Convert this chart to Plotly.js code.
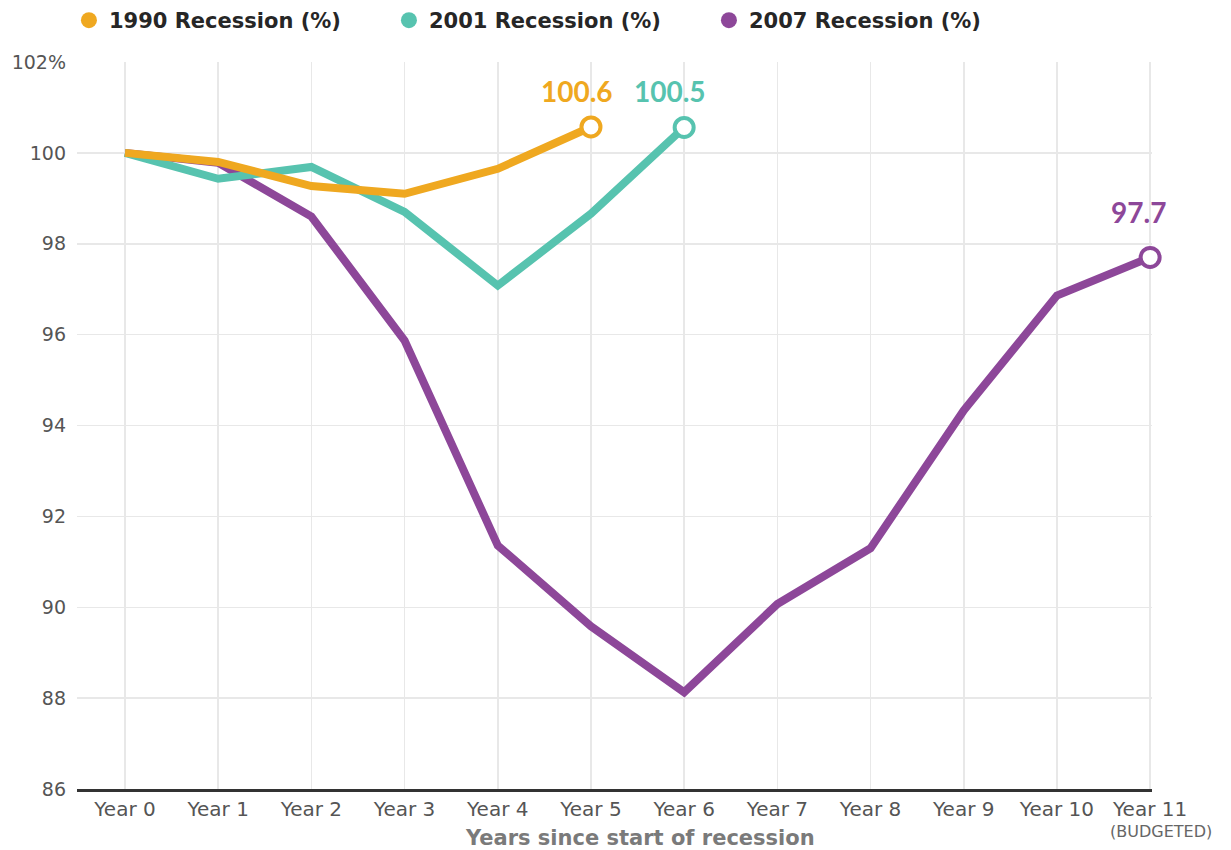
<!DOCTYPE html>
<html>
<head>
<meta charset="utf-8">
<script src="https://cdn.plot.ly/plotly-3.0.1.min.js"></script>
<style>
html,body{margin:0;padding:0;background:#fff;}
#chart{width:1231px;height:850px;}
</style>
</head>
<body>
<div id="chart"></div>
<script>
// ---- data ----
const years = [0,1,2,3,4,5,6,7,8,9,10,11];
const yearLabels = ["Year 0","Year 1","Year 2","Year 3","Year 4","Year 5","Year 6","Year 7","Year 8","Year 9","Year 10","Year 11"];
const seriesNames = ["1990 Recession (%)","2001 Recession (%)","2007 Recession (%)"];
const v1990 = [100, 99.8, 99.27, 99.1, 99.65, 100.57];
const v2001 = [100, 99.43, 99.69, 98.7, 97.08, 98.66, 100.56];
const v2007 = [100, 99.78, 98.6, 95.87, 91.36, 89.58, 88.13, 90.07, 91.3, 94.33, 96.86, 97.7];
const endLabels = ["100.6","100.5","97.7"];
const yTickVals = [86,88,90,92,94,96,98,100,102];
const yTickText = ["86","88","90","92","94","96","98","100","102%"];
const xTitle = "Years since start of recession";

const colors = ["#EFA820","#57C3AF","#8D4799"];
const series = [v1990, v2001, v2007];

const font = "Lato, 'Open Sans', sans-serif";
const wide = "'DejaVu Sans', sans-serif";
const traces = [];
// draw lines: purple first, then teal, then orange on top
[2,1,0].forEach(i => {
  const vals = series[i];
  traces.push({
    x: years.slice(0, vals.length), y: vals, mode: 'lines', type: 'scatter',
    line: {color: colors[i], width: 8, shape: 'linear'},
    showlegend: false, hoverinfo: 'x+y', cliponaxis: false
  });
});
// open end markers
[2,1,0].forEach(i => {
  const vals = series[i];
  const n = vals.length - 1;
  traces.push({
    x: [years[n]], y: [vals[n]], mode: 'markers', type: 'scatter',
    marker: {size: 19, color: '#ffffff', line: {color: colors[i], width: 4}},
    showlegend: false, cliponaxis: false
  });
});
// legend-only entries
[0,1,2].forEach(i => {
  traces.push({
    x: [null], y: [null], mode: 'markers', type: 'scatter', name: seriesNames[i],
    marker: {size: 22, color: colors[i]}, showlegend: true
  });
});

const annotations = [];
const labelOffsets = [[-14, 36], [-14, 36], [-12, 45]];
[0,1,2].forEach(i => {
  const vals = series[i];
  const n = vals.length - 1;
  annotations.push({
    x: years[n], y: vals[n], xref: 'x', yref: 'y', text: endLabels[i], showarrow: false,
    xshift: labelOffsets[i][0], yshift: labelOffsets[i][1],
    font: {family: font, size: 28, color: colors[i], weight: 'bold'}
  });
});
annotations.push({
  x: years[11], y: 0, xref: 'x', yref: 'paper', text: '(BUDGETED)', showarrow: false,
  xshift: 11, yshift: -42, yanchor: 'middle', font: {family: wide, size: 16, color: '#666'}
});
annotations.push({
  x: 0.5, y: 0, xref: 'paper', yref: 'paper', text: xTitle, showarrow: false,
  xshift: 25, yshift: -49, yanchor: 'middle',
  font: {family: wide, size: 21, color: '#7a7a7a', weight: 'bold'}
});

const layout = {
  width: 1231, height: 850,
  margin: {l: 77, r: 79, t: 62, b: 61},
  paper_bgcolor: '#fff', plot_bgcolor: '#fff',
  showlegend: true,
  legend: {
    orientation: 'h', x: 0.056, xanchor: 'left', xref: 'container',
    y: 1, yanchor: 'top', yref: 'container',
    font: {family: wide, size: 21, color: '#262626', weight: 'bold'},
    itemsizing: 'trace', itemwidth: 30, traceorder: 'normal',
    entrywidth: 275, entrywidthmode: 'pixels'
  },
  xaxis: {
    range: [-0.515, 11.02], tickvals: years, ticktext: yearLabels,
    showgrid: true, gridcolor: '#e8e8e8', gridwidth: 1.5,
    zeroline: false, showline: true, linecolor: '#333', linewidth: 3,
    ticks: '', ticklabelstandoff: 0,
    tickfont: {family: wide, size: 20, color: '#555'}
  },
  yaxis: {
    range: [86, 102], tickvals: yTickVals, ticktext: yTickText,
    showgrid: true, gridcolor: '#e8e8e8', gridwidth: 1.5,
    zeroline: false, showline: false, ticks: '', ticklabelstandoff: 10,
    tickfont: {family: wide, size: 19, color: '#555'}
  },
  annotations: annotations
};

Plotly.newPlot('chart', traces, layout, {displayModeBar: false, staticPlot: true});
</script>
</body>
</html>
